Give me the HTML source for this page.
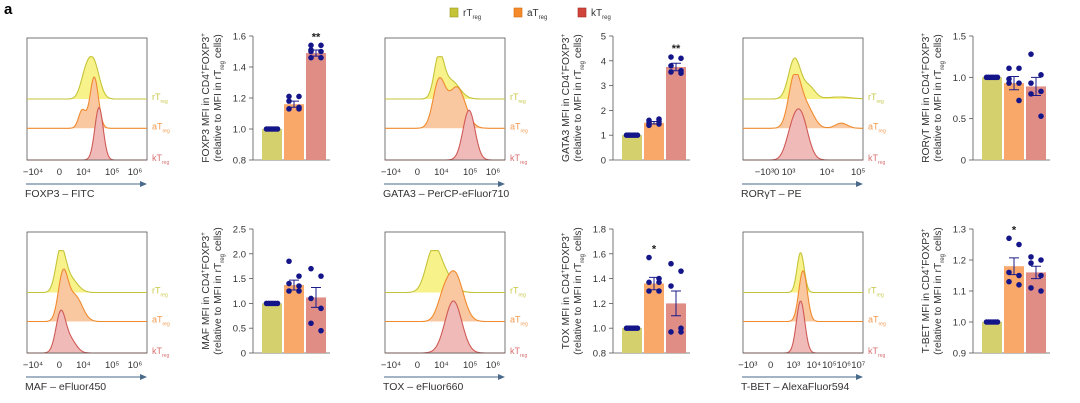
<!DOCTYPE html>
<html><head><meta charset="utf-8">
<style>
html,body{margin:0;padding:0;background:#fff;}
svg{display:block;font-family:"Liberation Sans",sans-serif;}
</style></head>
<body>
<svg id="fig" width="1080" height="403" viewBox="0 0 1080 403" xmlns="http://www.w3.org/2000/svg">
<text x="4" y="14" font-size="15" font-weight="bold" fill="#000">a</text>
<g>
 <rect x="450" y="8" width="8" height="9" fill="#c5c437" stroke="#9a9a20" stroke-width="0.6"/>
 <text x="463" y="16" font-size="10" fill="#333">rT<tspan font-size="6" dy="3">reg</tspan></text>
 <rect x="514" y="8" width="8" height="9" fill="#f58a2a" stroke="#d06a10" stroke-width="0.6"/>
 <text x="527" y="16" font-size="10" fill="#333">aT<tspan font-size="6" dy="3">reg</tspan></text>
 <rect x="578" y="8" width="8" height="9" fill="#d0443c" stroke="#a02a22" stroke-width="0.6"/>
 <text x="591" y="16" font-size="10" fill="#333">kT<tspan font-size="6" dy="3">reg</tspan></text>
</g>
</svg>
<script>
// ---- Bar chart data ----
const groups = ["rTreg","aTreg","kTreg"];
const markers = ["FOXP3","GATA3","RORγT","MAF","TOX","T-BET"];
const channels = ["FOXP3 – FITC","GATA3 – PerCP-eFluor710","RORγT – PE","MAF – eFluor450","TOX – eFluor660","T-BET – AlexaFluor594"];
const means = [[1,1.16,1.49],[1,1.5,3.75],[1,0.93,0.89],[1,1.37,1.12],[1,1.36,1.2],[1,1.18,1.16]];
const errs = [[0,0.02,0.02],[0,0.05,0.15],[0,0.08,0.11],[0,0.1,0.2],[0,0.05,0.1],[0,0.027,0.02]];
const ptsR = [[1,1,1,1,1,1],[1,1,1,1,1,1],[1,1,1,1,1,1],[1,1,1,1,1,1],[1,1,1,1,1,1],[1,1,1,1,1,1]];
const ptsA = [[1.21,1.21,1.18,1.14,1.13,1.13],[1.4,1.45,1.5,1.55,1.6,1.65],[1.11,1.11,0.98,0.93,0.93,0.72],[1.85,1.55,1.4,1.35,1.25,1.25],[1.57,1.4,1.37,1.37,1.3,1.3],[1.27,1.25,1.16,1.15,1.13,1.12]];
const ptsK = [[1.54,1.54,1.51,1.5,1.5,1.46,1.46],[4.15,4.1,3.8,3.6,3.55,3.5],[1.28,1.03,0.93,0.83,0.8,0.53],[1.7,1.55,1.1,0.9,0.6,0.45],[1.52,1.46,1.34,1.0,0.97,0.97],[1.21,1.2,1.19,1.15,1.11,1.1]];
const yMin = [0.8,0,0,0,0.8,0.9];
const yMax = [1.6,5,1.5,2.5,1.8,1.3];
const yTicks = [["0.8","1.0","1.2","1.4","1.6"],["0","1","2","3","4","5"],["0","0.5","1.0","1.5"],["0","0.5","1.0","1.5","2.0","2.5"],["0.8","1.0","1.2","1.4","1.6","1.8"],["0.9","1.0","1.1","1.2","1.3"]];
const sig = [["","","**"],["","","**"],["","",""],["","",""],["","*",""],["","*",""]];
// ---- Histogram data: per curve gaussian components [centerFrac, heightFrac, widthFrac] ----
const histR = [[[0.55,0.95,0.05],[0.48,0.4,0.04]],[[0.45,1,0.04],[0.55,0.45,0.07]],[[0.43,1,0.05],[0.55,0.3,0.05],[0.8,0.05,0.1]],[[0.28,1,0.04],[0.36,0.35,0.06]],[[0.4,1,0.06],[0.5,0.4,0.07]],[[0.48,1,0.03]]];
const histA = [[[0.56,1,0.035],[0.46,0.35,0.03]],[[0.45,0.9,0.05],[0.6,0.8,0.07]],[[0.43,1,0.05],[0.53,0.4,0.06],[0.82,0.1,0.05]],[[0.3,0.9,0.04],[0.4,0.5,0.06]],[[0.58,0.95,0.07],[0.48,0.3,0.05]],[[0.5,1,0.035]]];
const histK = [[[0.6,1,0.035]],[[0.7,0.95,0.05]],[[0.48,0.85,0.06],[0.4,0.35,0.05]],[[0.28,0.75,0.04],[0.36,0.25,0.05]],[[0.57,1,0.07]],[[0.48,1,0.035]]];
const histTickLabels = [["−10⁴","0","10⁴","10⁵","10⁶"],["−10⁴","0","10⁴","10⁵","10⁶"],["−10³0","10³","10⁴","10⁵"],["−10⁴","0","10⁴","10⁵","10⁶"],["−10⁴","0","10⁴","10⁵","10⁶"],["−10³","0","10³","10⁴","10⁵","10⁶","10⁷"]];
const histTickPos = [[0.05,0.27,0.47,0.71,0.9],[0.05,0.27,0.47,0.71,0.9],[0.2,0.38,0.7,0.96],[0.05,0.27,0.47,0.71,0.9],[0.05,0.27,0.47,0.71,0.9],[0.04,0.23,0.42,0.59,0.72,0.84,0.96]];

const NS="http://www.w3.org/2000/svg";
const svg=document.getElementById('fig');
function el(tag,attrs,parent){const e=document.createElementNS(NS,tag);for(const k in attrs)e.setAttribute(k,attrs[k]);(parent||svg).appendChild(e);return e;}
const colX=[[27,253],[385,613],[743,973]];
const rowY=[[38,160,36,160],[232,353,229,353]];
const barFill=["#d4d06e","#f9a86a","#e08d86"];
const lineC=["#c4c43a","#f08a2e","#d05a55"];
const fillC=["#f8f28a","#fac8a0","#efbab8"];
const labC=["#c8c84a","#f29a50","#d87070"];

for(let p=0;p<6;p++){
  const col=p%3,row=Math.floor(p/3);
  const bx=colX[col][0],ax=colX[col][1];
  const [bt,bb,yt,yb]=rowY[row];
  const g=el('g',{});
  
  
  // ----- histogram -----
  const bw=120;
  const box=el('rect',{x:bx,y:bt,width:bw,height:bb-bt,fill:'none',stroke:'#555','stroke-width':0.8},g);
  
  
  const h=bb-bt;
  const bases=[bt+h*0.5,bt+h*0.74,bb];
  const peakH=[h*0.33,h*0.42,h*0.43];
  const comps=[histR[p],histA[p],histK[p]];
  for(let c=0;c<3;c++){
    let d='';
    for(let i=0;i<=120;i++){
      const f=i/120;let v=0;
      for(const cm of comps[c]) v+=cm[1]*Math.exp(-0.5*Math.pow((f-cm[0])/cm[2],2));
      d+=(i?'L':'M')+(bx+f*bw).toFixed(1)+','+(bases[c]-Math.min(v,1.05)*peakH[c]).toFixed(1);
    }
    const fp=el('path',{d:d+'L'+(bx+bw)+','+bases[c]+'L'+bx+','+bases[c]+'Z',fill:fillC[c],stroke:'none'},g);
    
    
    const lp=el('path',{d:d,fill:'none',stroke:lineC[c],'stroke-width':1.1},g);
    
    
    const lt=el('text',{x:bx+bw+5,y:bases[c]+1,'font-size':9,fill:labC[c]},g);
    lt.textContent=groups[c].slice(0,2);
    const ts=el('tspan',{'font-size':5,dy:3},lt);ts.textContent='reg';
    
    
  }
  el('line',{x1:bx,y1:bb,x2:bx+bw,y2:bb,stroke:'#555','stroke-width':0.8},g);
  for(let i=0;i<histTickLabels[p].length;i++){
    const t=el('text',{x:bx+histTickPos[p][i]*bw,y:bb+15,'font-size':9.5,fill:'#333','text-anchor':'middle'},g);
    t.textContent=histTickLabels[p][i];
    
    
  }
  el('line',{x1:bx-1,y1:bb+24,x2:bx+bw-6,y2:bb+24,stroke:'#4a6a8a','stroke-width':1},g);
  el('path',{d:`M${bx+bw-7},${bb+21} L${bx+bw},${bb+24} L${bx+bw-7},${bb+27}Z`,fill:'#4a6a8a'},g);
  const ct=el('text',{x:bx-2,y:bb+37,'font-size':10.5,fill:'#333'},g);
  ct.textContent=channels[p];
  
  
  // ----- bar chart -----
  const ys=v=>yb-(v-yMin[p])/(yMax[p]-yMin[p])*(yb-yt);
  el('line',{x1:ax,y1:yt,x2:ax,y2:yb,stroke:'#555','stroke-width':0.8},g);
  el('line',{x1:ax,y1:yb,x2:ax+77,y2:yb,stroke:'#555','stroke-width':0.8},g);
  const nt=yTicks[p].length;
  for(let i=0;i<nt;i++){
    const v=parseFloat(yTicks[p][i]);const y=ys(v);
    el('line',{x1:ax-4,y1:y,x2:ax,y2:y,stroke:'#555','stroke-width':0.8},g);
    const t=el('text',{x:ax-7,y:y+3.5,'font-size':9.5,fill:'#333','text-anchor':'end'},g);
    t.textContent=yTicks[p][i];
    
    
  }
  const cy=(yt+yb)/2;
  const yl=el('text',{transform:`translate(${ax-44},${cy}) rotate(-90)`,'font-size':10.3,fill:'#333','text-anchor':'middle'},g);
  yl.innerHTML=markers[p]+' MFI in CD4<tspan font-size="6" dy="-4">+</tspan><tspan dy="4">FOXP3</tspan><tspan font-size="6" dy="-4">+</tspan>';
  
  
  const yl2=el('text',{transform:`translate(${ax-32},${cy}) rotate(-90)`,'font-size':10.3,fill:'#333','text-anchor':'middle'},g);
  yl2.innerHTML='(relative to MFI in rT<tspan font-size="6" dy="3">reg</tspan><tspan dy="-3"> cells)</tspan>';
  
  
  const pts=[ptsR[p],ptsA[p],ptsK[p]];
  for(let c=0;c<3;c++){
    const x0=ax+9+c*22,w=20,cx=x0+w/2;
    const top=ys(means[p][c]);
    const r=el('rect',{x:x0,y:top,width:w,height:yb-top,fill:barFill[c]},g);
    
    
    if(errs[p][c]>0){
      const e1=ys(means[p][c]+errs[p][c]),e2=ys(means[p][c]-errs[p][c]);
      el('path',{d:`M${cx},${e1}L${cx},${e2}M${cx-5},${e1}L${cx+5},${e1}M${cx-5},${e2}L${cx+5},${e2}`,stroke:'#1c1c8a','stroke-width':1,fill:'none'},g);
    }
    const n=pts[c].length;
    for(let i=0;i<n;i++){
      const dx=c===0?(i-(n-1)/2)*2.2:((i%2)?5:-5);
      const d=el('circle',{cx:cx+dx,cy:ys(pts[c][i]),r:2.8,fill:'#15158a'},g);
      
      
    }
    if(sig[p][c]){
      const mx=Math.max(...pts[c],means[p][c]+errs[p][c]);
      const s=el('text',{x:cx,y:ys(mx)-5,'font-size':11,'font-weight':'bold',fill:'#222','text-anchor':'middle'},g);
      s.textContent=sig[p][c];
      
      
    }
  }
}
</script>
</body></html>
